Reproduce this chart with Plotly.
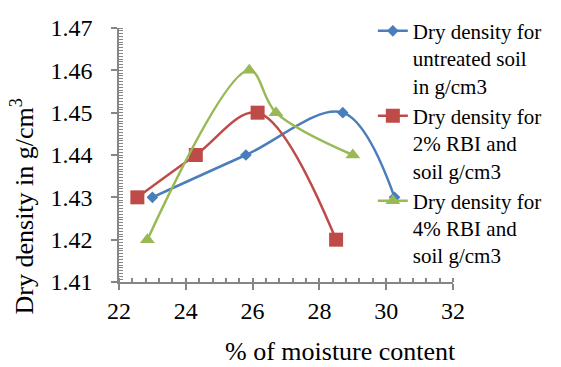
import plotly.graph_objects as go

# Data
untreated_x = [23.0, 25.8, 28.7, 30.25]
untreated_y = [1.43, 1.44, 1.45, 1.43]
rbi2_x = [22.55, 24.3, 26.15, 28.5]
rbi2_y = [1.43, 1.44, 1.45, 1.42]
rbi4_x = [22.85, 25.9, 26.7, 29.0]
rbi4_y = [1.42, 1.46, 1.45, 1.44]

names = [
    "Dry density for<br>untreated soil<br>in g/cm3",
    "Dry density for<br>2% RBI and<br>soil g/cm3",
    "Dry density for<br>4% RBI and<br>soil g/cm3",
]
colors = ["#4A7EBB", "#BE4B48", "#98B954"]

x_ticks = [22, 24, 26, 28, 30, 32]
y_ticks = [1.41, 1.42, 1.43, 1.44, 1.45, 1.46, 1.47]

FONT = "Liberation Serif"

fig = go.Figure()
series = [(untreated_x, untreated_y, "diamond", 9), (rbi2_x, rbi2_y, "square", 14), (rbi4_x, rbi4_y, "triangle-up", 13)]
for (xs, ys, sym, sz), name, col in zip(series, names, colors):
    fig.add_trace(go.Scatter(
        x=xs, y=ys, name=name, mode="lines+markers",
        line=dict(color=col, width=2.5, shape="spline", smoothing=1),
        marker=dict(symbol=sym, size=sz, color=col),
    ))

axis_common = dict(
    showgrid=False, zeroline=False, showline=True, linecolor="#868686", linewidth=1.5,
    ticks="outside", ticklen=6, tickcolor="#868686", tickwidth=1.5,
    tickfont=dict(family=FONT, size=24, color="black"),
)

fig.update_xaxes(
    range=[22, 32], tickvals=x_ticks, ticktext=[str(v) for v in x_ticks],
    minor=dict(dtick=0.4, tick0=22, ticks="inside", ticklen=4, tickcolor="#868686", tickwidth=1.5),
    ticklabelstandoff=0,
    **axis_common,
)
fig.update_yaxes(
    range=[1.41, 1.47], tickvals=y_ticks, ticktext=[f"{v:.2f}" for v in y_ticks],
    minor=dict(dtick=0.01 / 15, tick0=1.41, ticks="inside", ticklen=4, tickcolor="#868686", tickwidth=1.2),
    ticklabelstandoff=14,
    **axis_common,
)

fig.add_annotation(
    text="% of moisture content", xref="paper", yref="paper", x=0.662, y=-0.275,
    xanchor="center", yanchor="middle", showarrow=False,
    font=dict(family=FONT, size=26, color="black"),
)
fig.add_annotation(
    text="Dry density in g/cm<sup>3</sup>", xref="paper", yref="paper", x=-0.29, y=0.298,
    xanchor="center", yanchor="middle", showarrow=False, textangle=-90,
    font=dict(family=FONT, size=26, color="black"),
)

fig.update_layout(
    width=561, height=367,
    margin=dict(l=119, r=108, t=27, b=85),
    paper_bgcolor="white", plot_bgcolor="white",
    font=dict(family=FONT, color="black"),
    legend=dict(
        x=0.76, y=1.064, xanchor="left", yanchor="top", valign="top",
        font=dict(family=FONT, size=21, color="black"),
        bgcolor="rgba(0,0,0,0)", tracegroupgap=0, maxheight=367,
    ),
)

fig.write_html("out.html")
